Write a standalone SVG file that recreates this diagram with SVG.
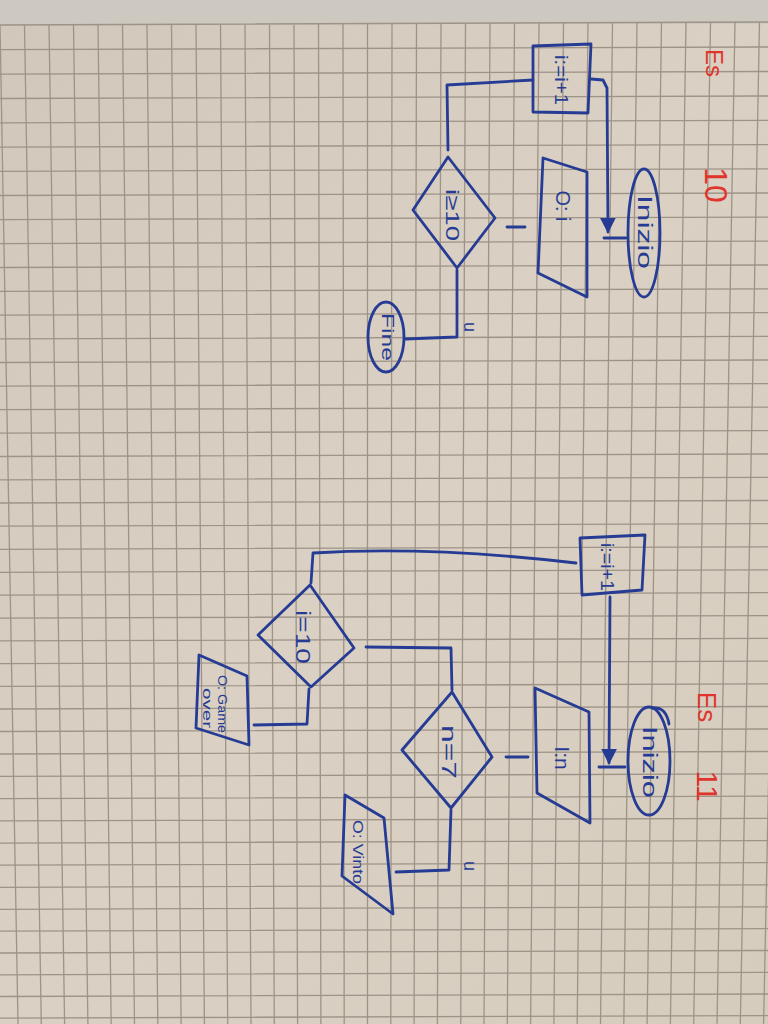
<svg xmlns="http://www.w3.org/2000/svg" width="768" height="1024" viewBox="0 0 768 1024">
  <defs>
    <linearGradient id="paper" x1="0" y1="0" x2="1" y2="1">
      <stop offset="0" stop-color="#d1c8bb"/>
      <stop offset="0.5" stop-color="#dad1c4"/>
      <stop offset="1" stop-color="#d6ccbe"/>
    </linearGradient>
    <marker id="head" viewBox="0 0 10 10" refX="9" refY="5" markerWidth="16" markerHeight="16" markerUnits="userSpaceOnUse" orient="auto">
      <path d="M0,0 L10,5 L0,10 z" fill="#263c94"/>
    </marker>
    <style>
      .ink { fill: none; stroke: #263c94; stroke-width: 2.8; stroke-linecap: round; stroke-linejoin: round; }
      .lbl { fill: #263c94; font-family: "Liberation Sans", Arial, sans-serif; text-anchor: middle; dominant-baseline: central; }
      .red { fill: #e0352c; font-family: "Liberation Sans", Arial, sans-serif; text-anchor: middle; dominant-baseline: central; }
      .grid { fill: none; stroke: #9d9387; stroke-width: 1.3; }
    </style>
  </defs>

  <!-- paper -->
  <rect width="768" height="1024" fill="url(#paper)"/>
  <rect width="768" height="24" fill="#cdc8c0"/>

  <!-- squared grid, slightly foreshortened toward the bottom -->
  <path class="grid" d="
    M0,25 L18,1024 M24.5,25 L41.3,1024 M49,25 L64.6,1024 M73.5,25 L87.9,1024 M98,25 L111.2,1024
    M122.5,25 L134.5,1024 M147,25 L157.8,1024 M171.5,25 L181.1,1024 M196,25 L204.4,1024 M220.5,25 L227.7,1024
    M245,25 L251,1024 M269.5,25 L274.3,1024 M294,25 L297.6,1024 M318.5,24 L320.9,1024 M343,24 L344.2,1024
    M367.5,24 L367.5,1024 M392,24 L390.8,1024 M416.5,24 L414.1,1024 M441,24 L437.4,1024 M465.5,24 L460.7,1024
    M490,23 L484,1024 M514.5,23 L507.3,1024 M539,23 L530.6,1024 M563.5,23 L553.9,1024 M588,23 L577.2,1024
    M612.5,23 L600.5,1024 M637,22 L623.8,1024 M661.5,22 L647.1,1024 M686,22 L670.4,1024 M710.5,22 L693.7,1024
    M735,22 L717,1024 M759.5,22 L740.3,1024 M784,22 L763.6,1024"/>
  <path class="grid" d="
    M0,25 L768,22 M0,49.6 L768,47 M0,74.1 L768,71.5 M0,98.5 L768,96 M0,122.8 L768,120.3
    M0,147.1 L768,144.6 M0,171.3 L768,168.8 M0,195.5 L768,193 M0,219.6 L768,217.1 M0,243.6 L768,241.1
    M0,267.5 L768,265 M0,291.4 L768,288.9 M0,315.2 L768,312.7 M0,338.9 L768,336.4 M0,362.5 L768,360
    M0,386.1 L768,383.6 M0,409.6 L768,407.1 M0,433.1 L768,430.6 M0,456.5 L768,454 M0,479.8 L768,477.3
    M0,503 L768,500.5 M0,526.2 L768,523.7 M0,549.3 L768,546.8 M0,572.3 L768,569.8 M0,595.2 L768,592.7
    M0,618.1 L768,615.6 M0,640.9 L768,638.4 M0,663.7 L768,661.2 M0,686.4 L768,683.9 M0,709 L768,706.5
    M0,731.5 L768,729 M0,754 L768,751.5 M0,776.4 L768,773.9 M0,798.7 L768,796.2 M0,820.9 L768,818.4
    M0,843.1 L768,840.6 M0,865.2 L768,862.7 M0,887.3 L768,884.8 M0,909.3 L768,906.8 M0,931.2 L768,928.7
    M0,953 L768,950.5 M0,974.8 L768,972.3 M0,996.5 L768,994 M0,1018.1 L768,1015.6"/>

  <!-- exercise titles -->
  <text class="red" font-size="24" transform="translate(714,63) rotate(90)">Es</text>
  <text class="red" font-size="32" transform="translate(716,185) rotate(90)">10</text>
  <text class="red" font-size="26" transform="translate(707,707) rotate(90)">Es</text>
  <text class="red" font-size="30" transform="translate(707,786) rotate(90)">11</text>

  <!-- ===== Es 10 ===== -->
  <g id="es10-inizio">
    <ellipse class="ink" cx="644" cy="233" rx="16" ry="64"/>
    <text class="lbl" font-size="20" textLength="74" lengthAdjust="spacingAndGlyphs" transform="translate(645,232) rotate(90)">Inizio</text>
  </g>
  <g id="es10-output">
    <polygon class="ink" points="543,158 587,172 587,297 538,273"/>
    <text class="lbl" font-size="20" transform="translate(563,206) rotate(90)">O:  i</text>
  </g>
  <g id="es10-cond">
    <polygon class="ink" points="448,157 495,218 457,268 413,210"/>
    <text class="lbl" font-size="19" textLength="52" lengthAdjust="spacingAndGlyphs" transform="translate(452,215) rotate(90)">i≥10</text>
  </g>
  <g id="es10-incr">
    <polygon class="ink" points="533,46 591,44 588,113 533,112"/>
    <text class="lbl" font-size="19" textLength="50" lengthAdjust="spacingAndGlyphs" transform="translate(561,80) rotate(90)">i:=i+1</text>
  </g>
  <g id="es10-fine">
    <ellipse class="ink" cx="386" cy="337" rx="18" ry="35"/>
    <text class="lbl" font-size="17" textLength="48" lengthAdjust="spacingAndGlyphs" transform="translate(387,337) rotate(90)">Fine</text>
  </g>

  <!-- ===== Es 11 ===== -->
  <g id="es11-inizio">
    <ellipse class="ink" cx="649" cy="761" rx="21" ry="54"/>
    <path class="ink" d="M652,708 Q666,706 669,724"/>
    <text class="lbl" font-size="20" textLength="72" lengthAdjust="spacingAndGlyphs" transform="translate(650,762) rotate(90)">Inizio</text>
  </g>
  <g id="es11-input">
    <polygon class="ink" points="535,688 589,712 590,823 537,793"/>
    <text class="lbl" font-size="21" transform="translate(562,758) rotate(90)">I:n</text>
  </g>
  <g id="es11-cond-i">
    <polygon class="ink" points="310,585 354,648 311,687 258,635"/>
    <text class="lbl" font-size="20" textLength="54" lengthAdjust="spacingAndGlyphs" transform="translate(303,637) rotate(90)">i=10</text>
  </g>
  <g id="es11-cond-n">
    <polygon class="ink" points="452,692 492,757 451,808 402,750"/>
    <text class="lbl" font-size="20" textLength="54" lengthAdjust="spacingAndGlyphs" transform="translate(449,752) rotate(90)">n=7</text>
  </g>
  <g id="es11-incr">
    <polygon class="ink" points="580,538 645,535 642,590 582,595"/>
    <text class="lbl" font-size="18" textLength="48" lengthAdjust="spacingAndGlyphs" transform="translate(607,567) rotate(90)">i:=i+1</text>
  </g>
  <g id="es11-over">
    <polygon class="ink" points="199,655 247,676 249,745 196,728"/>
    <text class="lbl" font-size="12" textLength="58" lengthAdjust="spacingAndGlyphs" transform="translate(222,704) rotate(90)">O: Game</text>
    <text class="lbl" font-size="12" textLength="40" lengthAdjust="spacingAndGlyphs" transform="translate(207,708) rotate(90)">over</text>
  </g>
  <g id="es11-vinto">
    <polygon class="ink" points="345,795 384,818 393,914 342,876"/>
    <text class="lbl" font-size="15" textLength="64" lengthAdjust="spacingAndGlyphs" transform="translate(358,852) rotate(90)">O: Vinto</text>
  </g>

  <!-- connectors -->
  <g id="connectors">
    <!-- Es 10 -->
    <line class="ink" x1="604" y1="238" x2="626" y2="238"/>
    <line class="ink" x1="507" y1="227" x2="525" y2="227"/>
    <polyline class="ink" points="448,150 447,85 533,80"/>
    <polyline class="ink" points="591,79 603,80 607,88 608,232" marker-end="url(#head)"/>
    <polyline class="ink" points="457,270 457,337 405,339"/>
    <text class="lbl" font-size="18" transform="translate(470,327) rotate(90)">u</text>

    <!-- Es 11 -->
    <line class="ink" x1="599" y1="767" x2="625" y2="767"/>
    <line class="ink" x1="506" y1="757" x2="528" y2="757"/>
    <polyline class="ink" points="366,647 451,648 452,690"/>
    <path class="ink" d="M311,583 L313,553 Q430,546 576,563"/>
    <line class="ink" x1="610" y1="597" x2="609" y2="763" marker-end="url(#head)"/>
    <polyline class="ink" points="309,689 307,724 254,725"/>
    <polyline class="ink" points="451,810 449,870 396,872"/>
    <text class="lbl" font-size="18" transform="translate(470,866) rotate(90)">u</text>
  </g>
</svg>
